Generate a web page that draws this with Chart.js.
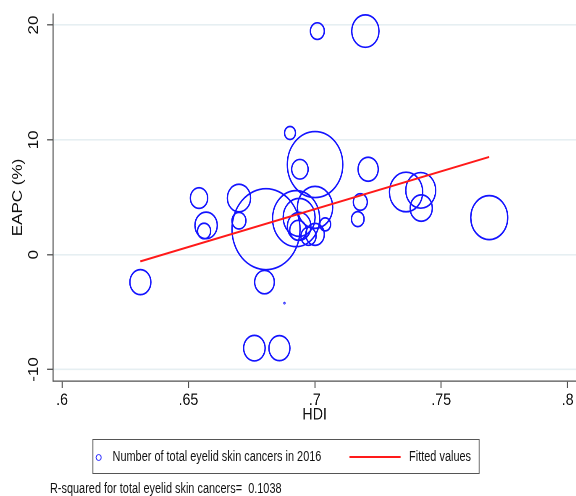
<!DOCTYPE html>
<html lang="en">
<head>
<meta charset="utf-8">
<title>EAPC vs HDI</title>
<script src="https://cdn.jsdelivr.net/npm/chart.js"></script>
<style>
  html, body { margin: 0; padding: 0; background: #fff; overflow: hidden; }
  /* the whole figure is laid out at 686px and condensed horizontally */
  #stage {
    position: absolute; left: 0; top: 0; width: 686px; height: 496px;
    transform: scaleX(0.84); transform-origin: 0 0;
    font-family: "Liberation Sans", Arial, sans-serif; color: #111;
  }
  #plot { position: absolute; left: 0; top: 0; }
  .abs { position: absolute; white-space: nowrap; }
  #legendBox { left: 110px; top: 439px; width: 461px; height: 35px; border: 1px solid #555; box-sizing: border-box; }
  #mk { left: 113.8px; top: 453.6px; width: 7.4px; height: 7.4px; border: 1.6px solid #1414ff; border-radius: 50%; box-sizing: border-box; }
  #lbl1 { left: 134px; top: 449px; font-size: 13px; line-height: 16px; transform: scaleY(1.08); }
  #ln { left: 416px; top: 456px; width: 61px; height: 2px; background: #ff1a1a; }
  #lbl2 { left: 487px; top: 449px; font-size: 13px; line-height: 16px; transform: scaleY(1.08); }
  #note { left: 59.5px; top: 481px; font-size: 13px; line-height: 16px; transform: scaleY(1.08); }
</style>
</head>
<body>
<div id="stage">
  <canvas id="plot" width="686" height="496"></canvas>
  <div class="abs" id="legendBox"></div>
  <div class="abs" id="mk"></div>
  <div class="abs" id="lbl1">Number of total eyelid skin cancers in 2016</div>
  <div class="abs" id="ln"></div>
  <div class="abs" id="lbl2">Fitted values</div>
  <div class="abs" id="note">R-squared for total eyelid skin cancers=&nbsp; 0.1038</div>
</div>
<script>
// Human Development Index per country
const hdi = [0.631, 0.6542, 0.657, 0.6562, 0.670, 0.670, 0.6807, 0.6801, 0.6761, 0.686,
             0.688, 0.6902, 0.701, 0.720, 0.7001, 0.6941, 0.7211, 0.7361, 0.7419, 0.7421,
             0.718, 0.769, 0.717, 0.6926, 0.7001, 0.6938, 0.6938, 0.6934, 0.7001, 0.7041, 0.6975];
// Estimated annual percentage change (%)
const eapc = [-2.39, 4.93, 2.55, 2.06, 4.93, 2.96, 2.22, -2.39, -8.14, -8.14,
              -4.22, 10.6, 19.47, 19.47, 7.85, 7.44, 7.44, 5.46, 5.6, 4.06,
              4.59, 3.23, 3.10, 3.14, 4.12, 3.25, 2.47, 2.12, 1.77, 2.64, 1.6];
// Number of eyelid skin cancers in 2016 (bubble weight)
const cases = [625, 424, 708, 243, 762, 276, 6561, 548, 655, 625,
               1, 169, 276, 1050, 4356, 384, 576, 1568, 1267, 697,
               276, 1936, 225, 3136, 1764, 1444, 784, 400, 484, 169, 324];
// Linear fit endpoints
const fitHdi = [0.631, 0.769];
const fitEapc = [-0.58, 8.51];
// Axis ticks
const xTicks = [0.6, 0.65, 0.7, 0.75, 0.8];
const xTickLabels = ['.6', '.65', '.7', '.75', '.8'];
const yTicks = [-10, 0, 10, 20];
const yTickLabels = ['-10', '0', '10', '20'];

const FONT = '"Liberation Sans", Arial, sans-serif';
const AXIS = '#505050';

// fixed axis boxes without label overflow padding
function fixBox(size) {
  return s => {
    if (s.isHorizontal()) s.height = size; else s.width = size;
    s.paddingTop = 0; s.paddingBottom = 0; s.paddingLeft = 0; s.paddingRight = 0;
  };
}

new Chart(document.getElementById('plot'), {
  data: {
    datasets: [
      {
        type: 'bubble',
        label: 'Number of total eyelid skin cancers in 2016',
        data: hdi.map((x, i) => ({ x: x, y: eapc[i], r: Math.sqrt(cases[i]) / 2 })),
        backgroundColor: 'rgba(0,0,0,0)',
        borderColor: '#1414ff',
        borderWidth: 1.7,
        hoverRadius: 0,
        order: 1
      },
      {
        type: 'line',
        label: 'Fitted values',
        data: fitHdi.map((x, i) => ({ x: x, y: fitEapc[i] })),
        borderColor: '#ff1a1a',
        borderWidth: 2,
        pointRadius: 0,
        fill: false,
        order: 0
      }
    ]
  },
  options: {
    responsive: false,
    animation: false,
    devicePixelRatio: 2,
    events: [],
    layout: { autoPadding: false, padding: { top: 14, left: 0, right: 0, bottom: 0 } },
    plugins: { legend: { display: false }, tooltip: { enabled: false } },
    scales: {
      x: {
        type: 'linear',
        min: 0.59644,
        max: 0.80342,
        afterBuildTicks: s => { s.ticks = xTicks.map(v => ({ value: v })); },
        afterFit: fixBox(115),
        ticks: {
          callback: (v, i) => xTickLabels[i],
          autoSkip: false, maxRotation: 0, minRotation: 0,
          padding: 2, color: '#111',
          font: { family: FONT, size: 17 }
        },
        grid: { drawOnChartArea: false, tickLength: 7, tickColor: AXIS, tickWidth: 1.3 },
        border: { color: AXIS, width: 1.3 },
        title: {
          display: true, text: 'HDI', color: '#111',
          font: { family: FONT, size: 17 },
          padding: { top: 0, bottom: 70.8 }
        }
      },
      y: {
        type: 'linear',
        min: -11.0,
        max: 20.96,
        afterBuildTicks: s => { s.ticks = yTicks.map(v => ({ value: v })); },
        afterFit: fixBox(63.1),
        ticks: {
          callback: (v, i) => yTickLabels[i],
          minRotation: 90, maxRotation: 90,
          crossAlign: 'center',
          padding: 3.3, color: '#111',
          font: { family: FONT, size: 17 }
        },
        grid: { color: '#e6eff2', lineWidth: 1.6, tickLength: 7, tickColor: AXIS, tickWidth: 1.3 },
        border: { color: AXIS, width: 1.3 },
        title: {
          display: true, text: 'EAPC (%)', color: '#111',
          font: { family: FONT, size: 17 },
          padding: { top: 11, bottom: 0 }
        }
      }
    }
  }
});
</script>
</body>
</html>
